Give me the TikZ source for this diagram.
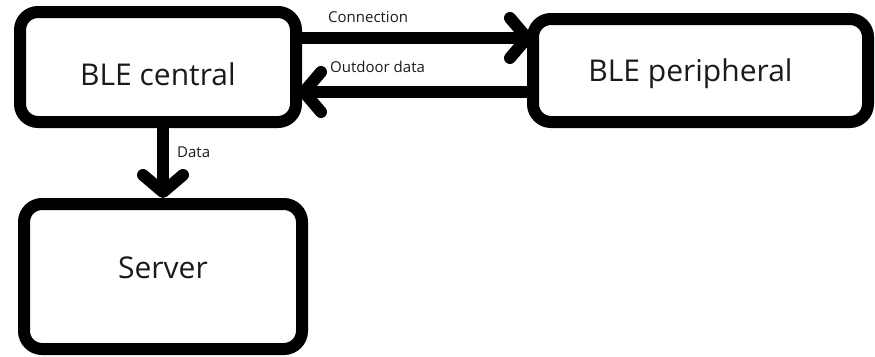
\documentclass[tikz,border=0pt]{standalone}
\usepackage{fontspec}
\setmainfont{Open Sans}
\usetikzlibrary{arrows.meta}
\definecolor{txt}{HTML}{1A1A1A}
\begin{document}
\begin{tikzpicture}[x=1pt,y=-1pt,
  box/.style={draw=black, line width=12pt, rounded corners=18pt, inner sep=0pt,
    font=\fontsize{30}{36}\selectfont, text=txt},
  arr/.style={draw=black, line width=12pt, -{Straight Barb[length=17pt,width=40pt,round]}},
  lbl/.style={font=\fontsize{15}{18}\selectfont, text=txt, inner sep=0pt, anchor=base west}]
\useasboundingbox (0,0) rectangle (875,356);
\node[box, minimum width=276pt, minimum height=110pt] (central) at (158,67)
  {\raisebox{-18pt}[0pt][0pt]{BLE central}};
\node[box, minimum width=335pt, minimum height=103pt] (peripheral) at (700.5,70.5)
  {\hspace*{-20pt}\raisebox{-10.5pt}[0pt][0pt]{BLE peripheral}};
\node[box, minimum width=278pt, minimum height=145pt] (server) at (163,276.5)
  {\raisebox{-1.5pt}[0pt][0pt]{Server}};
\coordinate (c1) at (0,38);
\coordinate (c2) at (0,92);
\coordinate (c3) at (163,0);
\draw[arr] (central.east |- c1) -- ([xshift=6pt]peripheral.west |- c1);
\draw[arr] (peripheral.west |- c2) -- ([xshift=-4pt]central.east |- c2);
\draw[arr] (central.south -| c3) -- (server.north -| c3);
\node[lbl] (lconn) at (328,22) {Connection};
\node[lbl] (lout) at (330,72) {Outdoor data};
\node[lbl] (ldata) at (177,157) {Data};
\end{tikzpicture}
\end{document}
